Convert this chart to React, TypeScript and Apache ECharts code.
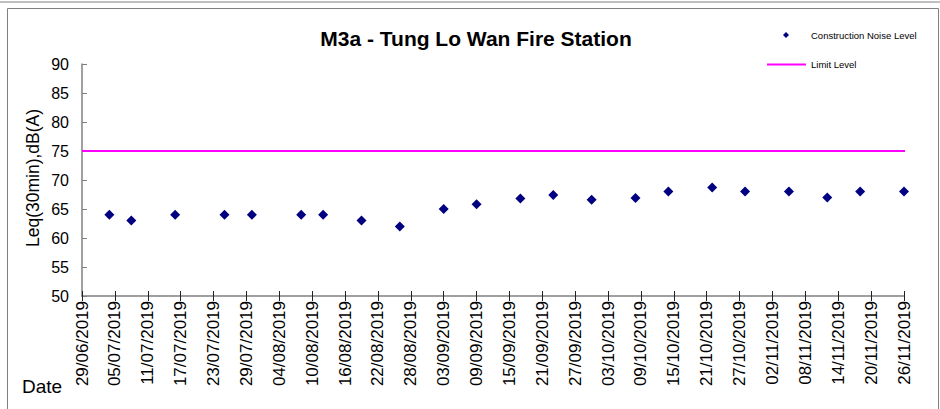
import React, { useEffect, useRef } from "react";
import * as echarts from "echarts";

const startDate = "29/06/2019";
const endDate = "26/11/2019";
const tickStepDays = 6;
const measureDates = [
  "04/07/2019", "08/07/2019", "16/07/2019", "25/07/2019", "30/07/2019",
  "08/08/2019", "12/08/2019", "19/08/2019", "26/08/2019", "03/09/2019",
  "09/09/2019", "17/09/2019", "23/09/2019", "30/09/2019", "08/10/2019",
  "14/10/2019", "22/10/2019", "28/10/2019", "05/11/2019", "12/11/2019",
  "18/11/2019", "26/11/2019",
];
const noiseLevels = [
  64, 63, 64, 64, 64, 64, 64, 63, 62, 65, 65.8, 66.8, 67.4, 66.6, 66.9, 68,
  68.7, 68, 68, 67, 68, 68,
];
const limitLevel = 75;
const yMin = 50;
const yMax = 90;
const yStep = 5;

const DAY = 86400000;
function parseDate(s: string): number {
  const [d, m, y] = s.split("/").map(Number);
  return Date.UTC(y, m - 1, d);
}
const t0 = parseDate(startDate);
function dayOffset(s: string): number {
  return Math.round((parseDate(s) - t0) / DAY);
}
function fmt(off: number): string {
  const dt = new Date(t0 + off * DAY);
  const dd = String(dt.getUTCDate()).padStart(2, "0");
  const mm = String(dt.getUTCMonth() + 1).padStart(2, "0");
  return `${dd}/${mm}/${dt.getUTCFullYear()}`;
}

export default function App() {
  const ref = useRef<HTMLDivElement>(null);
  useEffect(() => {
    document.body.style.margin = "0";
    if (!ref.current) return;
    const chart = echarts.init(ref.current, null, { renderer: "svg" });
    const xMax = dayOffset(endDate);
    const font = "Liberation Sans, Arial, sans-serif";
    const scatterData = measureDates.map((d, i) => [dayOffset(d), noiseLevels[i]]);
    chart.setOption({
      animation: false,
      grid: { left: 82, right: 36, top: 64, bottom: 113 },
      title: {
        text: "M3a - Tung Lo Wan Fire Station",
        left: 471,
        top: 23,
        textAlign: "center",
        textStyle: { fontFamily: font, fontSize: 21, fontWeight: "bold", color: "#000" },
      },
      xAxis: [
        {
          type: "value",
          min: 0,
          max: xMax,
          interval: tickStepDays,
          splitLine: { show: false },
          axisLine: { lineStyle: { color: "#808080", width: 1.5 } },
          axisTick: { inside: false, length: 5, lineStyle: { color: "#222" } },
          axisLabel: {
            rotate: 90,
            margin: 5,
            fontFamily: font,
            fontSize: 17,
            color: "#000",
            formatter: (v: number) => fmt(v),
            showMinLabel: true,
            showMaxLabel: true,
          },
        },
        {
          type: "value",
          min: 0,
          max: xMax,
          interval: tickStepDays,
          position: "bottom",
          splitLine: { show: false },
          axisLine: { show: false },
          axisTick: { inside: true, length: 5, lineStyle: { color: "#222" } },
          axisLabel: { show: false },
        },
      ],
      yAxis: {
        type: "value",
        min: yMin,
        max: yMax,
        interval: yStep,
        splitLine: { show: false },
        axisLine: { show: true, lineStyle: { color: "#808080", width: 1.5 } },
        axisTick: { show: true, inside: true, length: 5, lineStyle: { color: "#808080" } },
        axisLabel: { margin: 13, fontFamily: font, fontSize: 16, color: "#000" },
      },
      series: [
        {
          name: "Construction Noise Level",
          type: "scatter",
          symbol: "diamond",
          symbolSize: 10,
          itemStyle: { color: "#000080", opacity: 1 },
          data: scatterData,
          z: 3,
        },
        {
          name: "Limit Level",
          type: "line",
          symbol: "none",
          lineStyle: { color: "#FF00FF", width: 2 },
          itemStyle: { color: "#FF00FF" },
          data: [
            [0, limitLevel],
            [xMax + 1, limitLevel],
          ],
          z: 2,
        },
      ],
      graphic: [
        { type: "line", shape: { x1: 0, y1: 2, x2: 940, y2: 2 }, style: { stroke: "#808080", lineWidth: 1 } },
        { type: "rect", shape: { x: 7.5, y: 8.5, width: 931, height: 420 }, style: { fill: "none", stroke: "#808080", lineWidth: 1 } },
        {
          type: "polygon",
          shape: { points: [[786, 32], [789, 35], [786, 38], [783, 35]] },
          style: { fill: "#000080" },
        },
        {
          type: "text",
          x: 811,
          y: 35.5,
          style: { text: "Construction Noise Level", fontFamily: font, fontSize: 9.5, fill: "#000", align: "left", verticalAlign: "middle" },
        },
        { type: "line", shape: { x1: 767, y1: 64.5, x2: 806, y2: 64.5 }, style: { stroke: "#FF00FF", lineWidth: 2 } },
        {
          type: "text",
          x: 811,
          y: 64.5,
          style: { text: "Limit Level", fontFamily: font, fontSize: 9.5, fill: "#000", align: "left", verticalAlign: "middle" },
        },
        {
          type: "text",
          x: 33,
          y: 178,
          rotation: Math.PI / 2,
          style: {
            text: "Leq(30min),dB(A)",
            fontFamily: font,
            fontSize: 17.5,
            fill: "#000",
            align: "center",
            verticalAlign: "middle",
          },
        },
        {
          type: "text",
          x: 22,
          y: 386,
          style: {
            text: "Date",
            fontFamily: font,
            fontSize: 19,
            fill: "#000",
            align: "left",
            verticalAlign: "middle",
          },
        },
      ],
    });
    return () => chart.dispose();
  }, []);
  return <div ref={ref} style={{ width: 940, height: 409 }} />;
}
